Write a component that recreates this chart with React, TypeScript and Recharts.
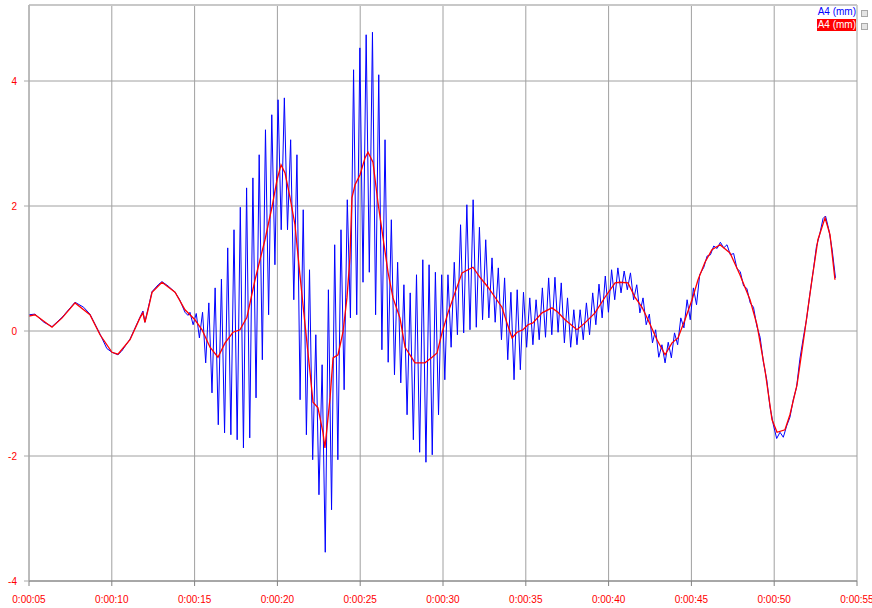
import React from "react";
import { LineChart, Line, XAxis, YAxis, CartesianGrid, ReferenceLine } from "recharts";

const xTicks = [5, 10, 15, 20, 25, 30, 35, 40, 45, 50, 55];
const xTickLabels = ["0:00:05", "0:00:10", "0:00:15", "0:00:20", "0:00:25", "0:00:30", "0:00:35", "0:00:40", "0:00:45", "0:00:50", "0:00:55"];
const yTicks = [-4, -2, 0, 2, 4];
const yMin = -4;
const yMax = 5.216;

const seriesNames = ["A4 (mm)", "A4 (mm)"];

// Red (filtered) trace
const redT = [5.0, 5.36, 6.39, 7.0, 7.78, 8.68, 9.29, 10.01, 10.37, 11.1, 11.7, 11.88, 12.0, 12.19, 12.43, 13.03, 13.82, 14.42, 15.02, 15.45, 15.93, 16.41, 16.84, 17.32, 17.74, 18.16, 18.65, 19.25, 19.67, 19.98, 20.22, 20.46, 20.76, 21.06, 21.36, 21.67, 21.97, 22.15, 22.45, 22.75, 22.87, 23.18, 23.36, 23.66, 23.96, 24.2, 24.38, 24.5, 24.69, 24.99, 25.29, 25.47, 25.77, 26.07, 26.38, 26.68, 26.98, 27.4, 27.71, 28.31, 28.91, 29.34, 29.64, 29.94, 30.3, 30.72, 31.15, 31.51, 31.81, 32.23, 32.72, 33.14, 33.56, 33.86, 34.17, 34.47, 34.83, 35.13, 35.43, 35.98, 36.58, 36.94, 37.37, 38.09, 38.57, 39.18, 39.78, 40.39, 40.69, 41.17, 41.59, 42.02, 42.38, 42.92, 43.41, 43.83, 44.19, 44.61, 45.04, 45.4, 45.82, 46.24, 46.73, 47.33, 47.93, 48.54, 48.96, 49.44, 49.87, 50.17, 50.65, 50.95, 51.38, 51.86, 52.28, 52.64, 53.07, 53.37, 53.67];
const redV = [0.24, 0.26, 0.06, 0.21, 0.45, 0.26, -0.06, -0.34, -0.37, -0.14, 0.21, 0.29, 0.14, 0.34, 0.62, 0.78, 0.62, 0.34, 0.18, 0.02, -0.26, -0.42, -0.19, -0.02, 0.02, 0.22, 0.82, 1.46, 1.98, 2.42, 2.66, 2.53, 2.14, 1.7, 0.9, 0.1, -0.66, -1.14, -1.23, -1.62, -1.87, -1.07, -0.43, -0.38, -0.02, 0.53, 1.17, 2.13, 2.34, 2.5, 2.77, 2.86, 2.7, 2.06, 1.49, 0.94, 0.53, 0.21, -0.26, -0.51, -0.51, -0.42, -0.35, -0.03, 0.29, 0.61, 0.93, 0.98, 1.02, 0.86, 0.7, 0.54, 0.38, 0.13, -0.11, -0.02, 0.02, 0.1, 0.13, 0.29, 0.37, 0.3, 0.18, 0.02, 0.13, 0.29, 0.54, 0.77, 0.78, 0.77, 0.54, 0.38, 0.18, -0.14, -0.38, -0.19, -0.11, 0.18, 0.5, 0.82, 1.1, 1.3, 1.38, 1.25, 0.9, 0.5, 0.1, -0.62, -1.42, -1.62, -1.58, -1.34, -0.86, 0.02, 0.82, 1.46, 1.81, 1.54, 0.82];

// Blue (raw) trace: quiet start
const blueLeftT = [5.0, 5.36, 5.9, 6.39, 7.0, 7.78, 8.3, 8.68, 9.29, 9.7, 10.01, 10.37, 10.6, 11.1, 11.7, 11.88, 12.0, 12.19, 12.43, 12.8, 13.03, 13.4, 13.82, 14.1, 14.42, 14.6];
const blueLeftV = [0.26, 0.27, 0.14, 0.07, 0.22, 0.46, 0.38, 0.27, -0.05, -0.28, -0.34, -0.38, -0.32, -0.13, 0.22, 0.32, 0.14, 0.36, 0.63, 0.74, 0.79, 0.72, 0.62, 0.5, 0.3, 0.25];

// Blue (raw) trace: oscillating part, uniformly sampled
const blueOscStart = 14.72;
const blueOscStep = 0.19;
const blueOscV = [
  0.30, 0.10, 0.28, -0.11, 0.30, -0.51, 0.45, -0.99, 0.69, -1.50,
  0.83, -1.63, 1.33, -1.66, 1.62, -1.74, 1.98, -1.87, 2.29, -1.71,
  2.45, -1.07, 2.82, -0.46, 3.22, 0.26, 3.46, 1.06, 3.70, 1.62,
  3.73, 1.62, 3.06, 0.50, 2.82, -1.10, 1.94, -1.66, 0.98, -2.06,
  -0.06, -2.62, -0.54, -3.54, 0.66, -2.86, 1.38, -2.06, 1.62, -0.94,
  2.10, 0.21, 4.18, 0.26, 4.53, 0.78, 4.74, 0.94, 4.78, 0.26,
  4.10, -0.30, 3.06, -0.50, 1.78, -0.70, 1.10, -0.83, 0.74, -1.34,
  0.61, -1.74, 0.90, -1.94, 1.14, -2.10, 1.06, -1.98, 0.94, -1.34,
  0.90, -0.78, 0.90, -0.26, 1.10, -0.06, 1.70, -0.03, 2.02, 0.02,
  2.10, 0.06, 1.66, 0.18, 1.46, 0.21, 1.17, 0.14, 1.01, -0.14,
  0.85, -0.46, 0.62, -0.78, 0.66, -0.62, 0.62, -0.26, 0.53, -0.22,
  0.50, -0.14, 0.69, -0.10, 0.85, -0.06, 0.86, -0.02, 0.77, -0.19,
  0.53, -0.26, 0.34, -0.22, 0.34, -0.14, 0.45, -0.06, 0.61, 0.10,
  0.75, 0.21, 0.88, 0.30, 0.98, 0.50, 1.01, 0.61, 0.96, 0.66,
  0.93, 0.50, 0.74, 0.29, 0.53, 0.10, 0.27, -0.19, 0.02, -0.42,
  -0.22, -0.51, -0.18, -0.43, -0.03, -0.22, 0.21, 0.05, 0.50, 0.18,
  0.69, 0.42, 0.90,
];

// Blue (raw) trace: end part
const blueRightT = [45.75, 45.95, 46.15, 46.35, 46.55, 46.75, 46.95, 47.15, 47.35, 47.55, 47.75, 47.95, 48.15, 48.35, 48.55, 48.75, 48.95, 49.15, 49.35, 49.55, 49.75, 49.95, 50.15, 50.35, 50.55, 50.75, 50.95, 51.15, 51.35, 51.55, 51.75, 51.95, 52.15, 52.35, 52.55, 52.75, 52.95, 53.1, 53.3, 53.5, 53.7];
const blueRightV = [1.02, 1.2, 1.22, 1.36, 1.32, 1.42, 1.33, 1.38, 1.22, 1.24, 1.0, 0.95, 0.72, 0.68, 0.45, 0.38, 0.08, -0.1, -0.5, -0.78, -1.22, -1.5, -1.72, -1.62, -1.7, -1.52, -1.38, -1.1, -0.9, -0.45, -0.12, 0.18, 0.58, 0.95, 1.35, 1.55, 1.8, 1.84, 1.62, 1.3, 0.85];

const redData = redT.map((t, i) => ({ t, v: redV[i] }));
const blueData = [
  ...blueLeftT.map((t, i) => ({ t, v: blueLeftV[i] })),
  ...blueOscV.map((v, i) => ({ t: blueOscStart + i * blueOscStep, v })),
  ...blueRightT.map((t, i) => ({ t, v: blueRightV[i] })),
];

const FONT = "'Liberation Sans', Arial, sans-serif";

export default function App() {
  return (
    <div style={{ position: "absolute", left: 0, top: 0, width: 872, height: 608, background: "#ffffff", overflow: "hidden" }}>
      <LineChart width={872} height={608} margin={{ top: 5, right: 15, bottom: 0, left: 0 }}>
        <CartesianGrid stroke="#a0a0a0" strokeWidth={1} />
        <ReferenceLine y={yMax} stroke="#c8c8c8" strokeWidth={2} />
        <XAxis
          dataKey="t"
          type="number"
          domain={[5, 55]}
          ticks={xTicks}
          interval={0}
          allowDataOverflow
          height={27}
          tickSize={5}
          tickMargin={10}
          stroke="#808080"
          tickFormatter={(v: number) => xTickLabels[xTicks.indexOf(v)]}
          tick={{ fill: "#ff0000", fontSize: 10, fontFamily: FONT }}
        />
        <YAxis
          type="number"
          domain={[yMin, yMax]}
          ticks={yTicks}
          interval={0}
          allowDataOverflow
          width={29}
          tickSize={5}
          tickMargin={7}
          stroke="#a8a8a8"
          tick={{ fill: "#ff0000", fontSize: 10, fontFamily: FONT }}
        />
        <Line data={blueData} dataKey="v" type="linear" stroke="#0000ff" strokeWidth={1} dot={false} isAnimationActive={false} />
        <Line data={redData} dataKey="v" type="linear" stroke="#ff0000" strokeWidth={1.3} dot={false} isAnimationActive={false} />
      </LineChart>
      <div style={{ position: "absolute", left: 806, top: 6, width: 50, textAlign: "right", whiteSpace: "nowrap", fontSize: 10, lineHeight: "12px", fontFamily: FONT, color: "#0000ff" }}>
        {seriesNames[0]}
      </div>
      <div style={{ position: "absolute", left: 817, top: 19, width: 39, height: 12, background: "#ff0000", textAlign: "right", whiteSpace: "nowrap", overflow: "visible", fontSize: 10, lineHeight: "12px", fontFamily: FONT, color: "#ffffff" }}>
        {seriesNames[1]}
      </div>
      <div style={{ position: "absolute", left: 861, top: 10, width: 5, height: 5, border: "1px solid #a8a8a8", background: "#e4e4e4" }} />
      <div style={{ position: "absolute", left: 861, top: 23, width: 5, height: 5, border: "1px solid #a8a8a8", background: "#e4e4e4" }} />
    </div>
  );
}
